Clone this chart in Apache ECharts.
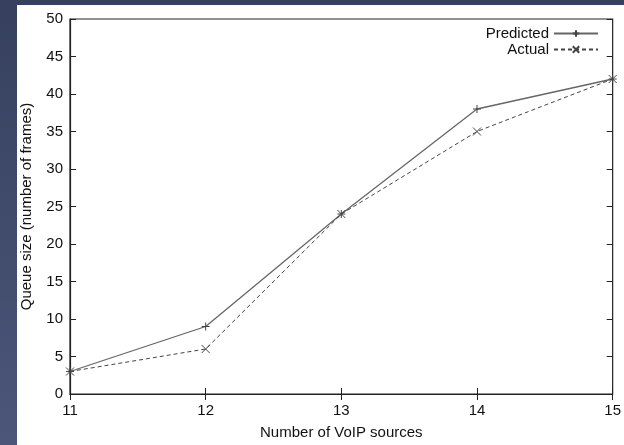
<!DOCTYPE html>
<html>
<head>
<meta charset="utf-8">
<script src="https://cdn.jsdelivr.net/npm/echarts@6/dist/echarts.min.js"></script>
<style>
  html, body { margin: 0; padding: 0; }
  #chart { width: 624px; height: 445px; }
</style>
</head>
<body>
<div id="chart"></div>
<script>
// VoIP queue data
var sources = [11, 12, 13, 14, 15];
var predicted = [3, 9, 24, 38, 42];
var actual = [3, 6, 24, 35, 42];

var plusIcon = 'path://M0,5L10,5M5,0L5,10';
var crossIcon = 'path://M0,0L10,10M10,0L0,10';
var font = 'Liberation Sans, Arial, sans-serif';

function pairs(xs, ys) {
    return xs.map(function (x, i) { return [x, ys[i]]; });
}

var chart = echarts.init(document.getElementById('chart'));
chart.setOption({
    backgroundColor: {
        type: 'linear', x: 0, y: 0, x2: 0, y2: 1,
        colorStops: [{offset: 0, color: '#36405e'}, {offset: 1, color: '#4b5679'}]
    },
    animation: false,
    graphic: [{
        type: 'rect', left: 17, top: 5, z: -10,
        shape: {width: 607, height: 440},
        style: {fill: '#ffffff'}
    }],
    grid: {left: 70, right: 7, top: 19, bottom: 47, show: true, borderColor: '#222', borderWidth: 1.2},
    legend: {
        orient: 'vertical', right: 20, top: 21, align: 'right',
        itemWidth: 44, itemHeight: 8, itemGap: 1,
        textStyle: {fontFamily: font, fontSize: 15, color: '#111', lineHeight: 15},
        data: ['Predicted', 'Actual']
    },
    xAxis: [{
        type: 'value', min: 11, max: 15, interval: 1,
        name: 'Number of VoIP sources', nameLocation: 'middle', nameGap: 31,
        nameTextStyle: {fontFamily: font, fontSize: 15, color: '#111'},
        axisLine: {lineStyle: {color: '#222', width: 1.2}},
        axisTick: {inside: true, length: 6, lineStyle: {color: '#222'}},
        axisLabel: {fontFamily: font, fontSize: 15, color: '#111', margin: 9},
        splitLine: {show: false}
    }, {
        type: 'value', min: 11, max: 15, interval: 1, position: 'top',
        axisLine: {show: false},
        axisTick: {inside: true, length: 6, lineStyle: {color: '#222'}},
        axisLabel: {show: false}, splitLine: {show: false}
    }],
    yAxis: [{
        type: 'value', min: 0, max: 50, interval: 5,
        name: 'Queue size (number of frames)', nameLocation: 'middle', nameGap: 36,
        nameTextStyle: {fontFamily: font, fontSize: 15, color: '#111'},
        axisLine: {show: true, lineStyle: {color: '#222', width: 1.2}},
        axisTick: {show: true, inside: true, length: 6, lineStyle: {color: '#222'}},
        axisLabel: {fontFamily: font, fontSize: 15, color: '#111', margin: 7},
        splitLine: {show: false}
    }, {
        type: 'value', min: 0, max: 50, interval: 5, position: 'right',
        axisLine: {show: false},
        axisTick: {show: true, inside: true, length: 6, lineStyle: {color: '#222'}},
        axisLabel: {show: false}, splitLine: {show: false}
    }],
    series: [{
        name: 'Predicted', type: 'line',
        data: pairs(sources, predicted),
        symbol: plusIcon, symbolSize: 8,
        lineStyle: {color: '#666', width: 1.3, type: 'solid'},
        itemStyle: {color: '#444', borderColor: '#444', borderWidth: 1}
    }, {
        name: 'Actual', type: 'line',
        data: pairs(sources, actual),
        symbol: crossIcon, symbolSize: 8,
        lineStyle: {color: '#444', width: 1, type: [4, 3]},
        itemStyle: {color: '#444', borderColor: '#444', borderWidth: 1}
    }]
});
</script>
</body>
</html>
